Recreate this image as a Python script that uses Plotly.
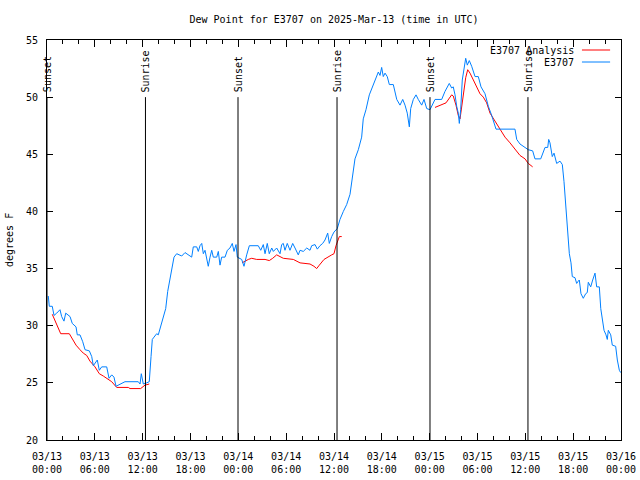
import pandas as pd
import plotly.graph_objects as go

START = pd.Timestamp("2025-03-13 00:00")

# Observed dew point (E3707): hours since 2025-03-13 00:00 UTC, degrees F
obs_hours = [0.16, 0.29, 0.66, 0.88, 1.22, 1.63, 1.84, 2.13, 2.35, 2.89, 3.17, 3.64, 3.80, 4.14, 4.48, 4.77,
             5.31, 5.61, 5.81, 6.31, 6.56, 6.86, 7.49, 7.78, 8.12, 8.40, 8.66, 9.16, 9.78, 11.45, 11.67, 11.83,
             11.95, 12.08, 12.51, 12.83, 13.05, 13.21, 13.42, 13.76, 13.96, 14.26, 14.59, 14.89, 15.14, 15.43,
             15.77, 15.93, 16.27, 16.90, 17.31, 18.15, 18.35, 18.78, 18.98, 19.19, 19.41, 19.61, 19.82, 20.03,
             20.23, 20.45, 20.66, 20.86, 21.29, 21.49, 21.70, 21.91, 22.33, 22.62, 22.95, 23.24, 23.46, 23.71,
             23.87, 24.42, 24.71, 25.05, 25.38, 26.50, 26.81, 27.13, 27.35, 27.63, 27.88, 28.19, 28.39, 28.81,
             29.01, 29.23, 29.44, 29.64, 29.85, 30.14, 30.48, 30.82, 31.11, 31.52, 31.74, 32.15, 32.58, 32.99,
             33.20, 33.62, 33.91, 34.24, 34.58, 34.87, 35.21, 35.41, 35.71, 36.00, 36.41, 36.75, 37.17, 37.59,
             38.01, 38.22, 38.63, 39.05, 39.47, 39.67, 40.01, 40.43, 40.85, 41.27, 41.56, 41.77, 41.98, 42.18,
             42.40, 42.68, 42.94, 43.44, 43.65, 43.87, 44.28, 44.62, 44.91, 45.19, 45.45, 45.62, 45.95, 46.29,
             46.57, 47.00, 47.29, 47.63, 48.04, 48.67, 49.51, 49.92, 50.46, 50.76, 50.96, 51.18, 51.39, 51.59,
             51.72, 51.89, 52.09, 52.31, 52.52, 52.72, 52.97, 53.27, 53.69, 54.10, 54.44, 54.94, 55.36, 55.78,
             55.99, 56.32, 58.70, 58.92, 59.33, 59.75, 60.37, 60.92, 61.21, 61.93, 62.25, 62.47, 62.81, 62.93,
             63.09, 63.38, 63.60, 63.72, 63.93, 64.35, 64.64, 64.85, 65.06, 65.19, 65.39, 65.52, 65.73, 65.89,
             66.23, 66.44, 66.64, 66.77, 66.98, 67.27, 67.57, 67.77, 67.90, 68.20, 68.45, 68.74, 68.95, 69.28,
             69.46, 69.71, 69.87, 70.12, 70.28, 70.41, 70.71, 70.91, 71.33, 71.54, 71.79, 71.96]
obs_values = [32.6, 31.7, 31.7, 30.9, 31.1, 31.4, 30.8, 30.4, 31.1, 30.8, 30.2, 29.9, 29.2, 29.2, 28.6, 27.9,
              27.8, 27.3, 26.5, 27.0, 26.1, 26.4, 26.4, 25.4, 25.7, 25.5, 24.7, 24.9, 25.1, 25.1, 24.9, 25.8,
              25.3, 24.9, 25.0, 25.1, 27.3, 28.8, 29.0, 29.3, 29.2, 29.9, 30.8, 31.5, 33.0, 34.0,
              35.5, 36.0, 36.3, 36.1, 36.4, 36.0, 36.9, 36.9, 36.5, 37.0, 37.2, 36.3, 36.6, 35.9,
              35.2, 36.0, 36.6, 36.0, 36.0, 36.5, 35.3, 36.0, 36.0, 36.6, 36.8, 37.2, 36.5, 37.1,
              36.0, 35.8, 35.2, 36.2, 37.0, 37.0, 36.6, 37.1, 36.3, 37.2, 36.3, 36.8, 36.5, 36.8,
              36.5, 36.3, 37.1, 37.2, 36.6, 37.2, 36.6, 37.2, 36.8, 36.2, 36.6, 36.5, 36.8, 36.6,
              37.0, 37.1, 36.7, 37.0, 37.2, 37.5, 38.1, 37.2, 37.8, 38.2, 38.5, 39.3, 40.0, 40.6,
              41.5, 42.7, 44.6, 45.4, 46.5, 48.1, 48.9, 50.2, 50.9, 51.6, 52.2, 51.9, 52.6, 51.8,
              52.1, 51.8, 51.1, 51.1, 50.3, 49.8, 49.3, 49.8, 49.3, 48.6, 47.4, 49.0, 49.8, 50.2,
              49.8, 49.3, 49.8, 49.0, 48.9, 49.8, 49.8, 50.5, 51.2, 50.8, 50.9, 50.2, 49.2, 48.6,
              47.7, 48.9, 51.5, 52.7, 53.4, 52.8, 53.2, 52.7, 51.8, 51.8, 50.9, 50.3, 49.2, 48.4,
              48.0, 47.2, 47.2, 46.3, 45.9, 45.7, 45.4, 45.3, 44.6, 44.6, 45.2, 45.6, 45.6, 46.3,
              46.0, 44.8, 45.1, 44.8, 44.2, 44.4, 44.1, 42.6, 40.7, 39.3, 37.8, 36.3, 35.5, 34.3,
              34.2, 33.7, 33.9, 34.0, 32.8, 32.4, 32.8, 32.9, 33.8, 33.4, 34.0, 34.6, 33.4, 33.4,
              31.5, 30.3, 29.6, 29.2, 28.8, 29.6, 29.2, 28.3, 28.2, 27.0, 26.1, 25.9]

# Analysis (E3707 Analysis): None marks gaps between analysis periods
ana_hours = [0.66, 1.00, 1.42, 1.72, 2.80, 3.10, 3.64, 4.14, 4.55, 4.98, 5.39, 6.02, 6.56, 7.06, 7.69, 8.12,
             8.74, 10.20, 10.41, 11.75, 12.29, 12.83, 18.0,
             24.46, 24.71, 25.25, 25.68, 26.30, 27.35, 27.88, 28.31, 28.81, 29.64, 30.90, 31.74, 32.99, 33.49,
             33.83, 34.16, 34.75, 35.71, 36.00, 36.25, 36.46, 36.67, 36.97, 42.0,
             48.67, 49.08, 49.71, 50.05, 50.76, 50.96, 51.30, 51.59, 51.81, 52.02, 52.22, 52.52, 52.77, 53.06,
             53.48, 53.90, 54.31, 54.73, 55.15, 55.57, 56.20, 56.82, 57.45, 58.08, 58.70, 59.33, 59.96, 60.37,
             60.92]
ana_values = [31.0, 30.5, 29.8, 29.3, 29.3, 28.9, 28.3, 27.9, 27.6, 27.4, 26.9, 26.4, 25.8, 25.6, 25.3, 25.1,
              24.6, 24.6, 24.5, 24.5, 24.8, 24.9, None,
              35.5, 35.6, 35.8, 35.9, 35.8, 35.8, 35.7, 35.9, 36.2, 35.9, 35.8, 35.5, 35.4, 35.2,
              35.0, 35.3, 35.8, 36.2, 36.3, 37.0, 37.4, 37.8, 37.8, None,
              49.1, 49.2, 49.4, 49.5, 50.2, 50.1, 49.3, 48.4, 48.1, 49.2, 50.6, 51.7, 52.4, 52.1,
              51.5, 50.9, 50.3, 50.0, 49.5, 48.6, 47.9, 47.1, 46.5, 46.0, 45.4, 44.9, 44.6, 44.2,
              43.9]

# Sun events (hours since start) and labels
sun_hours = [0.0, 12.35, 23.96, 36.38, 48.04, 60.33]
sun_labels = ["Sunset", "Sunrise", "Sunset", "Sunrise", "Sunset", "Sunrise"]
sun_line_top = 50
y_min, y_max = 20, 55

FONT = "DejaVu Sans Mono"
RED = "#ff0000"
BLUE = "#0080ff"


def to_time(hours):
    return [START + pd.Timedelta(hours=h) for h in hours]


fig = go.Figure()
fig.add_trace(go.Scatter(x=to_time(ana_hours), y=ana_values, mode="lines",
                         line=dict(color=RED, width=1), name="E3707 Analysis",
                         connectgaps=False, showlegend=False))
fig.add_trace(go.Scatter(x=to_time(obs_hours), y=obs_values, mode="lines",
                         line=dict(color=BLUE, width=1), name="E3707", showlegend=False))

for h, lab in zip(sun_hours, sun_labels):
    t = START + pd.Timedelta(hours=h)
    fig.add_shape(type="line", xref="x", yref="y", x0=t, x1=t, y0=y_min, y1=sun_line_top,
                  line=dict(color="black", width=1))
    fig.add_annotation(x=t, y=sun_line_top, xref="x", yref="y", text=lab, textangle=-90,
                       showarrow=False, xanchor="center", yanchor="bottom", yshift=3,
                       font=dict(family=FONT, size=10, color="black"))

# manual gnuplot-style legend (text left, sample right)
legend_rows = [("E3707 Analysis", RED, 0.975), ("E3707", BLUE, 0.945)]
for text, col, yp in legend_rows:
    fig.add_annotation(x=0.921, y=yp, xref="paper", yref="paper", text=text, showarrow=False,
                       xanchor="right", yanchor="middle", font=dict(family=FONT, size=10, color="black"))
    fig.add_shape(type="line", xref="paper", yref="paper", x0=0.932, x1=0.981, y0=yp, y1=yp,
                  line=dict(color=col, width=1))

# y-axis title
fig.add_annotation(x=0, y=0.5, xref="paper", yref="paper", text="degrees F", textangle=-90,
                   showarrow=False, xanchor="center", yanchor="middle", xshift=-38,
                   font=dict(family=FONT, size=10, color="black"))

fig.update_layout(
    width=640, height=480,
    margin=dict(l=47, r=19, t=40, b=40, autoexpand=False),
    paper_bgcolor="white", plot_bgcolor="white",
    font=dict(family=FONT, size=10, color="black"),
    title=dict(text="Dew Point for E3707 on 2025-Mar-13 (time in UTC)", x=0.5, xref="paper",
               xanchor="center", y=1 - 19 / 480, yref="container", yanchor="middle",
               font=dict(family=FONT, size=10, color="black")),
    showlegend=False,
)
fig.update_xaxes(type="date", automargin=False,
                 range=[START, START + pd.Timedelta(hours=72)],
                 dtick=6 * 3600 * 1000, tick0=START, tickformat="%m/%d<br>%H:%M",
                 ticks="inside", ticklen=7, tickcolor="black", tickwidth=1,
                 minor=dict(dtick=2 * 3600 * 1000, ticks="inside", ticklen=4, tickcolor="black"),
                 showline=True, linecolor="black", linewidth=1, mirror="ticks",
                 showgrid=False, zeroline=False, ticklabelstandoff=7,
                 tickfont=dict(family=FONT, size=10, color="black"))
fig.update_yaxes(range=[y_min, y_max], dtick=5, tick0=20, automargin=False,
                 ticks="inside", ticklen=6, tickcolor="black", tickwidth=1,
                 showline=True, linecolor="black", linewidth=1, mirror="ticks",
                 showgrid=False, zeroline=False, ticklabelstandoff=6,
                 tickfont=dict(family=FONT, size=10, color="black"))

fig.write_html("out.html", config={"displayModeBar": False},
               post_script="document.body.style.margin='0';document.body.style.overflow='hidden';")
